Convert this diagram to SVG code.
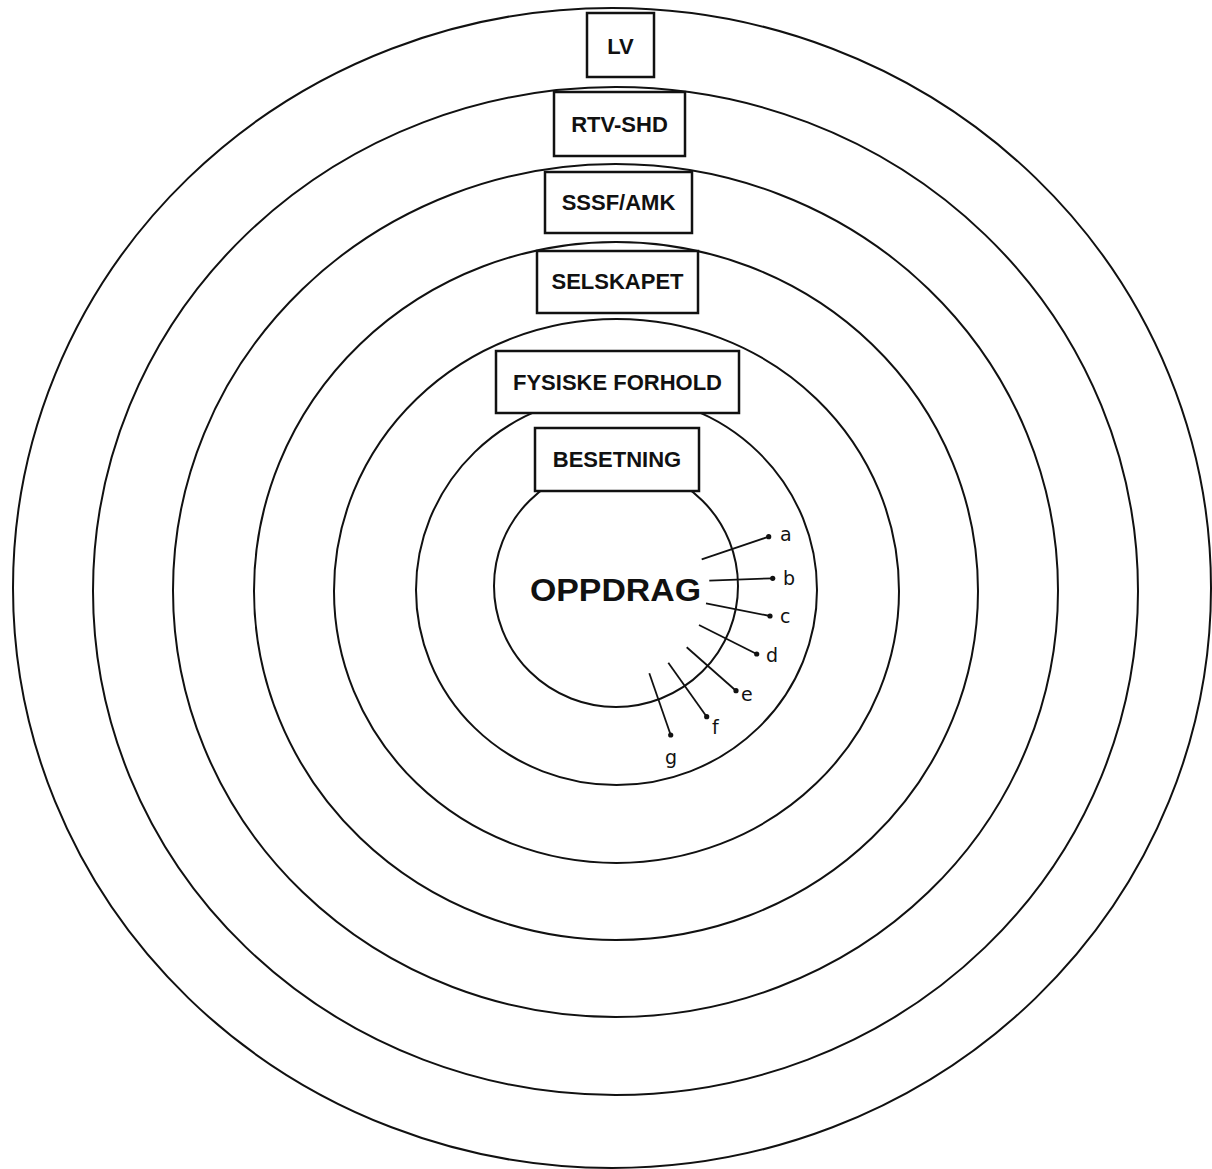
<svg xmlns="http://www.w3.org/2000/svg" width="1212" height="1169" viewBox="0 0 1212 1169">
<style>
.ring{fill:none;stroke:#111;stroke-width:2}
.box{fill:#fff;stroke:#111;stroke-width:2.5}
.lbl{font-family:"Liberation Sans",Arial,sans-serif;font-weight:bold;font-size:22px;fill:#111;text-anchor:middle}
.big{font-family:"Liberation Sans",Arial,sans-serif;font-weight:bold;font-size:31px;fill:#111;text-anchor:middle}
.ptr{stroke:#111;stroke-width:1.8;fill:none}
.dot{fill:#111}
.hand{font-family:"DejaVu Sans","Liberation Sans",sans-serif;font-size:19px;fill:#111}
</style>
<rect x="0" y="0" width="1212" height="1169" fill="#fff"/>
<g id="rings">
<ellipse class="ring" cx="612" cy="588" rx="599" ry="580"/>
<ellipse class="ring" cx="615.5" cy="591" rx="522.5" ry="504"/>
<ellipse class="ring" cx="615.5" cy="590.5" rx="442.5" ry="426.5"/>
<ellipse class="ring" cx="616" cy="591" rx="362" ry="349"/>
<ellipse class="ring" cx="616.5" cy="591" rx="282.5" ry="272"/>
<ellipse class="ring" cx="616.5" cy="590" rx="200.5" ry="195"/>
<ellipse class="ring" cx="616" cy="586" rx="122" ry="121"/>
</g>
<g id="node-lv">
<rect class="box" x="587" y="13" width="67" height="64"/>
<text class="lbl" x="620.5" y="54">LV</text>
</g>
<g id="node-rtv-shd">
<rect class="box" x="554" y="92" width="131" height="64"/>
<text class="lbl" x="619.5" y="132">RTV-SHD</text>
</g>
<g id="node-sssf-amk">
<rect class="box" x="545" y="172" width="147" height="61"/>
<text class="lbl" x="618.5" y="210">SSSF/AMK</text>
</g>
<g id="node-selskapet">
<rect class="box" x="537" y="251" width="161" height="62"/>
<text class="lbl" x="617.5" y="289">SELSKAPET</text>
</g>
<g id="node-fysiske-forhold">
<rect class="box" x="496" y="351" width="243" height="62"/>
<text class="lbl" x="617.5" y="390">FYSISKE FORHOLD</text>
</g>
<g id="node-besetning">
<rect class="box" x="535" y="428" width="164" height="63"/>
<text class="lbl" x="617" y="467">BESETNING</text>
</g>
<g id="node-oppdrag">
<text class="big" x="615.5" y="601" textLength="171" lengthAdjust="spacingAndGlyphs">OPPDRAG</text>
</g>
<g id="connectors">
<line class="ptr" x1="701.7" y1="559.3" x2="768.7" y2="536.7"/>
<circle class="dot" cx="768.7" cy="536.7" r="2.6"/>
<line class="ptr" x1="709.3" y1="580.7" x2="772.7" y2="578.3"/>
<circle class="dot" cx="772.7" cy="578.3" r="2.6"/>
<line class="ptr" x1="706" y1="603.3" x2="770" y2="616"/>
<circle class="dot" cx="770" cy="616" r="2.6"/>
<line class="ptr" x1="699" y1="625" x2="756.7" y2="654"/>
<circle class="dot" cx="756.7" cy="654" r="2.6"/>
<line class="ptr" x1="686.7" y1="647.3" x2="736" y2="690.7"/>
<circle class="dot" cx="736" cy="690.7" r="2.6"/>
<line class="ptr" x1="668.3" y1="662.7" x2="706.7" y2="716.7"/>
<circle class="dot" cx="706.7" cy="716.7" r="2.6"/>
<line class="ptr" x1="649.3" y1="673.3" x2="670.7" y2="735"/>
<circle class="dot" cx="670.7" cy="735" r="2.6"/>
</g>
<g id="pointer-labels">
<text class="hand" x="780" y="541">a</text>
<text class="hand" x="783" y="585">b</text>
<text class="hand" x="780" y="623">c</text>
<text class="hand" x="766" y="662">d</text>
<text class="hand" x="741" y="701">e</text>
<text class="hand" x="712" y="734">f</text>
<text class="hand" x="665" y="764">g</text>
</g>
</svg>
